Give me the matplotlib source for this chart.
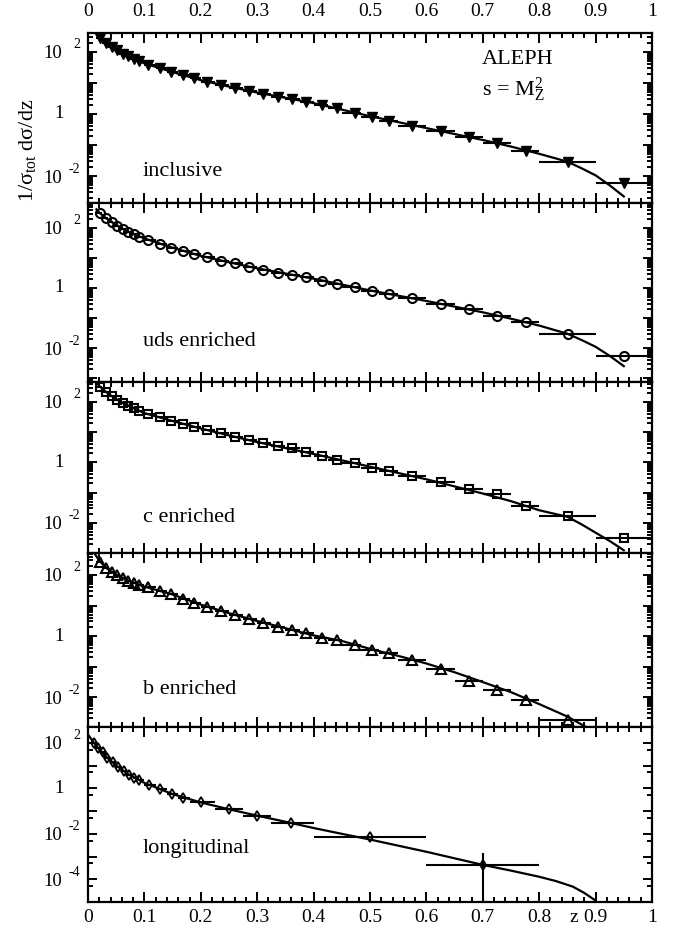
import numpy as np
import matplotlib
matplotlib.use('Agg')
import matplotlib.pyplot as plt
from matplotlib import transforms
from matplotlib.ticker import MultipleLocator, FixedLocator, LogLocator, NullFormatter, FuncFormatter

plt.rcParams['font.family'] = ['Liberation Serif', 'DejaVu Serif']
plt.rcParams['mathtext.fontset'] = 'custom'
plt.rcParams['mathtext.rm'] = 'Liberation Serif'
plt.rcParams['mathtext.it'] = 'Liberation Serif:italic'
plt.rcParams['mathtext.bf'] = 'Liberation Serif:bold'

# ---------------- data ----------------
z_points = [0.021, 0.032, 0.042, 0.051, 0.062, 0.071, 0.081, 0.091,
            0.107, 0.128, 0.148, 0.168, 0.188,
            0.211, 0.236, 0.261, 0.285, 0.310, 0.337, 0.362, 0.387, 0.415, 0.441,
            0.473, 0.504, 0.534,
            0.574, 0.626, 0.676, 0.725, 0.777,
            0.851, 0.950]
z_bin_edges = [0.015, 0.025, 0.035, 0.045, 0.055, 0.065, 0.075, 0.085, 0.1,
               0.12, 0.14, 0.16, 0.18, 0.2,
               0.225, 0.25, 0.275, 0.3, 0.325, 0.35, 0.375, 0.4, 0.425, 0.45,
               0.4833, 0.5167, 0.55,
               0.6, 0.65, 0.7, 0.75, 0.8,
               0.9, 1.0]

incl_vals = [282, 200, 141, 112, 87, 72, 60, 50,
             38, 29.5, 22.9, 18.2, 14.1,
             11.0, 8.7, 7.1, 5.6, 4.5, 3.6, 2.95, 2.5, 1.95, 1.51,
             1.10, 0.78, 0.60,
             0.42, 0.28, 0.186, 0.112, 0.066,
             0.029, 0.0058]
uds_vals = [310, 209, 155, 120, 93, 76, 62, 51,
            40, 29, 22, 17, 13.2,
            10.5, 8.1, 6.6, 5.1, 4.0, 3.2, 2.7, 2.3, 1.74, 1.35,
            1.05, 0.81, 0.62,
            0.48, 0.30, 0.20, 0.12, 0.072,
            0.030, 0.0055]
c_vals = [324, 219, 158, 117, 95, 76, 62, 51,
          39, 31, 24, 18.2, 15.1,
          11.7, 9.1, 6.9, 5.4, 4.4, 3.5, 2.9, 2.2, 1.58, 1.17,
          0.95, 0.66, 0.50,
          0.35, 0.22, 0.132, 0.091, 0.037,
          0.017, 0.0031]
b_vals = [275, 166, 129, 100, 78, 65, 56, 47,
          40, 30, 23.4, 16.2, 12.3,
          9.1, 6.6, 4.9, 3.5, 2.75, 2.0, 1.58, 1.23, 0.87, 0.74,
          0.50, 0.36, 0.27,
          0.162, 0.081, 0.034, 0.017, 0.0079,
          0.00178]

long_z = [0.010, 0.018, 0.026, 0.034, 0.044, 0.053, 0.063, 0.072, 0.082, 0.091,
          0.108, 0.128, 0.149, 0.169, 0.20, 0.25, 0.30, 0.36, 0.50, 0.70]
long_edges = [0.005, 0.015, 0.022, 0.03, 0.04, 0.05, 0.06, 0.07, 0.08, 0.09, 0.1,
              0.12, 0.14, 0.16, 0.18, 0.225, 0.275, 0.325, 0.4, 0.6, 0.8]
long_vals = [100, 60, 40, 21.4, 14.5, 8.7, 5.6, 3.8, 2.95, 2.3,
             1.38, 0.91, 0.59, 0.39, 0.25, 0.129, 0.059, 0.031, 0.0071, 0.00043]
long_vbar_z = [0.70]
long_vbar_lo = [1e-6]
long_vbar_hi = [0.00148]

# theory curves
curve_z_1 = [0.017, 0.02, 0.03, 0.04, 0.05, 0.07, 0.1, 0.15, 0.2, 0.25, 0.3, 0.4, 0.5, 0.6, 0.7, 0.75, 0.8, 0.85, 0.875, 0.9, 0.925, 0.95]
curve_y_1 = [417, 316, 209, 148, 115, 74, 42.7, 22.4, 12.3, 7.6, 4.9, 2.24, 0.85, 0.35, 0.145, 0.089, 0.052, 0.029, 0.0178, 0.0105, 0.0050, 0.0022]
curve_z_2 = [0.015, 0.02, 0.03, 0.04, 0.05, 0.07, 0.1, 0.15, 0.2, 0.25, 0.3, 0.4, 0.5, 0.6, 0.7, 0.75, 0.8, 0.85, 0.875, 0.9, 0.925, 0.95]
curve_y_2 = [417, 324, 224, 166, 126, 76, 44.7, 21.9, 11.7, 7.2, 4.5, 2.04, 0.83, 0.37, 0.155, 0.095, 0.056, 0.030, 0.0186, 0.011, 0.0055, 0.0025]
curve_z_3 = [0.015, 0.02, 0.03, 0.04, 0.05, 0.07, 0.1, 0.15, 0.2, 0.25, 0.3, 0.4, 0.5, 0.6, 0.7, 0.75, 0.8, 0.85, 0.875, 0.9, 0.925, 0.95]
curve_y_3 = [437, 339, 229, 166, 123, 78, 42.7, 23.4, 13.2, 7.8, 4.7, 1.9, 0.72, 0.275, 0.093, 0.052, 0.026, 0.0158, 0.0089, 0.0047, 0.0025, 0.00123]
curve_z_4 = [0.01, 0.02, 0.03, 0.04, 0.05, 0.07, 0.1, 0.15, 0.2, 0.25, 0.3, 0.4, 0.45, 0.5, 0.55, 0.6, 0.65, 0.7, 0.75, 0.8, 0.85, 0.883]
curve_y_4 = [562, 295, 186, 132, 102, 66, 41.7, 22.9, 10.7, 5.6, 3.1, 1.05, 0.69, 0.38, 0.224, 0.126, 0.065, 0.031, 0.0145, 0.0059, 0.0023, 0.00105]
curve_z_5 = [0.002, 0.01, 0.02, 0.03, 0.04, 0.05, 0.07, 0.1, 0.15, 0.2, 0.25, 0.3, 0.35, 0.4, 0.45, 0.5, 0.6, 0.7, 0.75, 0.8, 0.83, 0.86, 0.88, 0.899]
curve_y_5 = [200, 105, 52, 28, 16.6, 10.2, 4.4, 1.74, 0.56, 0.24, 0.12, 0.063, 0.034, 0.018, 0.010, 0.0056, 0.00162, 0.00043, 0.00024, 0.000129, 0.000083, 0.000047, 0.000025, 0.000012]

panel_texts = ['inclusive', 'uds enriched', 'c enriched', 'b enriched', 'longitudinal']
x_tick_labels = ['0', '0.1', '0.2', '0.3', '0.4', '0.5', '0.6', '0.7', '0.8', '0.9', '1']

# ---------------- layout ----------------
W, H = 678, 933
fig = plt.figure(figsize=(W / 100, H / 100), dpi=100)
L, R = 88, 652
panel_px = [(33, 203), (203, 382), (382, 553), (553, 727), (727, 902)]
ylims_exp = [(-2.87, 2.61), (-3.13, 2.83), (-3.0, 2.66), (-2.98, 2.72), (-5.0, 2.70)]
ylab_exps = [[2, 0, -2], [2, 0, -2], [2, 0, -2], [2, 0, -2], [2, 0, -2, -4]]
label_y_px = [171, 342, 517, 690, 848]

series = [
    (z_points, incl_vals, z_bin_edges, dict(marker='v', ms=7, mfc='k', mec='k')),
    (z_points, uds_vals, z_bin_edges, dict(marker='o', ms=6.5, mfc='none', mec='k', mew=1.5)),
    (z_points, c_vals, z_bin_edges, dict(marker='s', ms=6, mfc='none', mec='k', mew=1.5)),
    (z_points[:len(b_vals)], b_vals, z_bin_edges[:len(b_vals) + 1], dict(marker='^', ms=7, mfc='none', mec='k', mew=1.5)),
    (long_z, long_vals, long_edges, dict(marker='d', ms=5.5, mfc='none', mec='k', mew=1.3)),
]
curves = [(curve_z_1, curve_y_1), (curve_z_2, curve_y_2), (curve_z_3, curve_y_3),
          (curve_z_4, curve_y_4), (curve_z_5, curve_y_5)]

tick_fs = 14
axes = []
for i in range(5):
    top, bot = panel_px[i]
    ax = fig.add_axes([L / W, 1 - bot / H, (R - L) / W, (bot - top) / H])
    axes.append(ax)
    ax.set_yscale('log')
    ax.set_xlim(0, 1)
    lo, hi = ylims_exp[i]
    ax.set_ylim(10 ** lo, 10 ** hi)
    for s in ax.spines.values():
        s.set_linewidth(1.6)

    zc, yc = curves[i]
    ax.plot(zc, yc, color='k', lw=1.6, zorder=2)

    zs, ys, edges, mk = series[i]
    zs = np.array(zs); ys = np.array(ys)
    e = np.array(edges)
    xerr = np.vstack([zs - e[:-1], e[1:] - zs])
    ax.errorbar(zs, ys, xerr=xerr, fmt='none', ecolor='k', elinewidth=1.5, capsize=0, zorder=3)
    ax.plot(zs, ys, ls='none', color='k', zorder=4, **mk)
    if i == 4:
        ax.vlines(long_vbar_z, long_vbar_lo, long_vbar_hi, color='k', lw=1.5, zorder=3)

    # ticks
    ax.xaxis.set_major_locator(MultipleLocator(0.1))
    ax.xaxis.set_minor_locator(MultipleLocator(0.02))
    ax.yaxis.set_major_locator(FixedLocator([10.0 ** k for k in range(-6, 4)]))
    if i < 4:
        ax.yaxis.set_minor_locator(LogLocator(base=10, subs=np.arange(2, 10), numticks=30))
    else:
        ax.yaxis.set_minor_locator(LogLocator(base=10, subs=(5,), numticks=30))
    ax.yaxis.set_major_formatter(NullFormatter())
    ax.yaxis.set_minor_formatter(NullFormatter())
    ax.tick_params(which='both', direction='in', top=True, right=True, width=1.4)
    ax.tick_params(axis='x', which='major', length=7.5)
    ax.tick_params(axis='x', which='minor', length=3.8)
    ax.tick_params(axis='y', which='major', length=6.5)
    ax.tick_params(axis='y', which='minor', length=3.5)
    xfmt = FuncFormatter(lambda v, p: x_tick_labels[int(round(v * 10))] if 0 <= round(v * 10) <= 10 else '')
    ax.xaxis.set_major_formatter(xfmt)
    if i == 0:
        ax.tick_params(axis='x', labeltop=True, labelbottom=False, labelsize=tick_fs, pad=9)
    elif i == 4:
        ax.tick_params(axis='x', labeltop=False, labelbottom=True, labelsize=tick_fs, pad=5)
    else:
        ax.tick_params(axis='x', labeltop=False, labelbottom=False)

    # y tick labels, grace style
    base_t = transforms.blended_transform_factory(ax.transAxes, ax.transData)
    for k in ylab_exps[i]:
        yv = 10.0 ** k
        if k == 0:
            ax.text((64 - L) / (R - L), yv, '1', transform=base_t, ha='right', va='center',
                    fontsize=13.5, clip_on=False)
        else:
            tb = transforms.offset_copy(base_t, fig=fig, x=0, y=-2, units='dots')
            ax.text((62 - L) / (R - L), yv, '10', transform=tb, ha='right', va='center',
                    fontsize=13.5, clip_on=False)
            te = transforms.offset_copy(base_t, fig=fig, x=0, y=7, units='dots')
            ax.text((80 - L) / (R - L), yv, '%d' % k, transform=te, ha='right', va='center',
                    fontsize=10, clip_on=False)

    # panel label
    ax.text((143 - L) / (R - L), 1 - (label_y_px[i] - top) / (bot - top), panel_texts[i],
            transform=ax.transAxes, ha='left', va='center', fontsize=16)

# annotations
axes[0].text((482 - L) / (R - L), 1 - (60 - 33) / 170, 'ALEPH', transform=axes[0].transAxes,
             ha='left', va='center', fontsize=16)
axes[0].text((482 - L) / (R - L), 1 - (90 - 33) / 170, r'$\mathrm{s\,=\,M_Z^2}$', transform=axes[0].transAxes,
             ha='left', va='center', fontsize=16)

# x axis label 'z'
axes[4].annotate('z', xy=(0.862, 0), xycoords=('data', 'axes fraction'), xytext=(0, -16),
                 textcoords='offset pixels', ha='center', va='center', fontsize=tick_fs)

# y axis label
fig.text(27 / W, 1 - 150 / H, r'$\mathrm{1/\sigma_{tot}\ d\sigma/dz}$', rotation=90,
         ha='center', va='center', fontsize=16)

fig.savefig('out.png', dpi=100)
